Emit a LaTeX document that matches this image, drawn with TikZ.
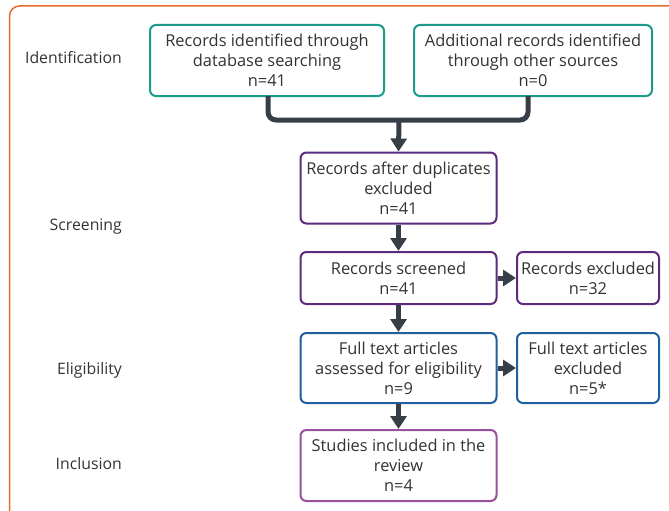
\documentclass[tikz,border=0pt]{standalone}
\usepackage{fontspec}
\setmainfont{Open Sans}
\usetikzlibrary{arrows.meta}
\definecolor{frameor}{HTML}{E96B2B}
\definecolor{teal1}{HTML}{1C9A8A}
\definecolor{purp1}{HTML}{5C2A7E}
\definecolor{blue1}{HTML}{1F5F9D}
\definecolor{mag1}{HTML}{9A509C}
\definecolor{arr1}{HTML}{383E48}
\definecolor{txt1}{HTML}{333333}
\begin{document}
\begin{tikzpicture}[x=1pt,y=-1pt,
  every node/.style={font=\fontsize{16.4}{20}\selectfont, text=txt1},
  flowbox/.style={draw, line width=2pt, rounded corners=6pt, align=center, inner sep=0pt, fill=white},
  stagelbl/.style={anchor=east, inner sep=0pt, font=\fontsize{15.8}{20}\selectfont},
  conn/.style={draw=arr1, line width=5pt, -{Triangle[width=16pt,length=13pt]}},
  joinline/.style={draw=arr1, line width=5pt, rounded corners=8pt}
]
\useasboundingbox (0,0) rectangle (669,511);
\draw[frameor, line width=1.5pt, rounded corners=10pt] (9.5,6) -- (700,6) -- (700,560) -- (9.5,560) -- cycle;

\node[flowbox, draw=teal1, minimum width=234pt, minimum height=71pt] (b1) at (267,60.5) {Records identified through\\database searching\\n=41};
\node[flowbox, draw=teal1, minimum width=238pt, minimum height=71pt] (b2) at (533,60.5) {Additional records identified\\through other sources\\n=0};
\node[flowbox, draw=purp1, minimum width=196pt, minimum height=71pt] (b3) at (398.5,188) {Records after duplicates\\excluded\\n=41};
\node[flowbox, draw=purp1, minimum width=196pt, minimum height=52pt] (b4) at (398.5,278) {Records screened\\n=41};
\node[flowbox, draw=purp1, minimum width=142pt, minimum height=52pt] (b5) at (588,278) {Records excluded\\n=32};
\node[flowbox, draw=blue1, minimum width=196pt, minimum height=70pt] (b6) at (398.5,368) {Full text articles\\assessed for eligibility\\n=9};
\node[flowbox, draw=blue1, minimum width=142pt, minimum height=70pt] (b7) at (588,368) {Full text articles\\excluded\\n=5*};
\node[flowbox, draw=mag1, minimum width=196pt, minimum height=71pt] (b8) at (398.5,465.5) {Studies included in the\\review\\n=4};

\node[stagelbl] (s1) at (122,58) {Identification};
\node[stagelbl] (s2) at (122,227) {Screening};
\node[stagelbl] (s3) at (122,370) {Eligibility};
\node[stagelbl] (s4) at (122,464) {Inclusion};

\coordinate (j1) at (268,96);
\coordinate (j2) at (528,96);
\coordinate (jm) at (399,120);
\draw[joinline] (j1) -- (268,120) -- (528,120) -- (j2);
\draw[conn] (jm) -- (b3.north);
\draw[conn] (b3.south) -- (b4.north);
\draw[conn] (b4.south) -- (b6.north);
\draw[conn] (b6.south) -- (b8.north);
\draw[conn] (b4.east) -- (b5.west);
\draw[conn] (b6.east) -- (b7.west);
\end{tikzpicture}
\end{document}
